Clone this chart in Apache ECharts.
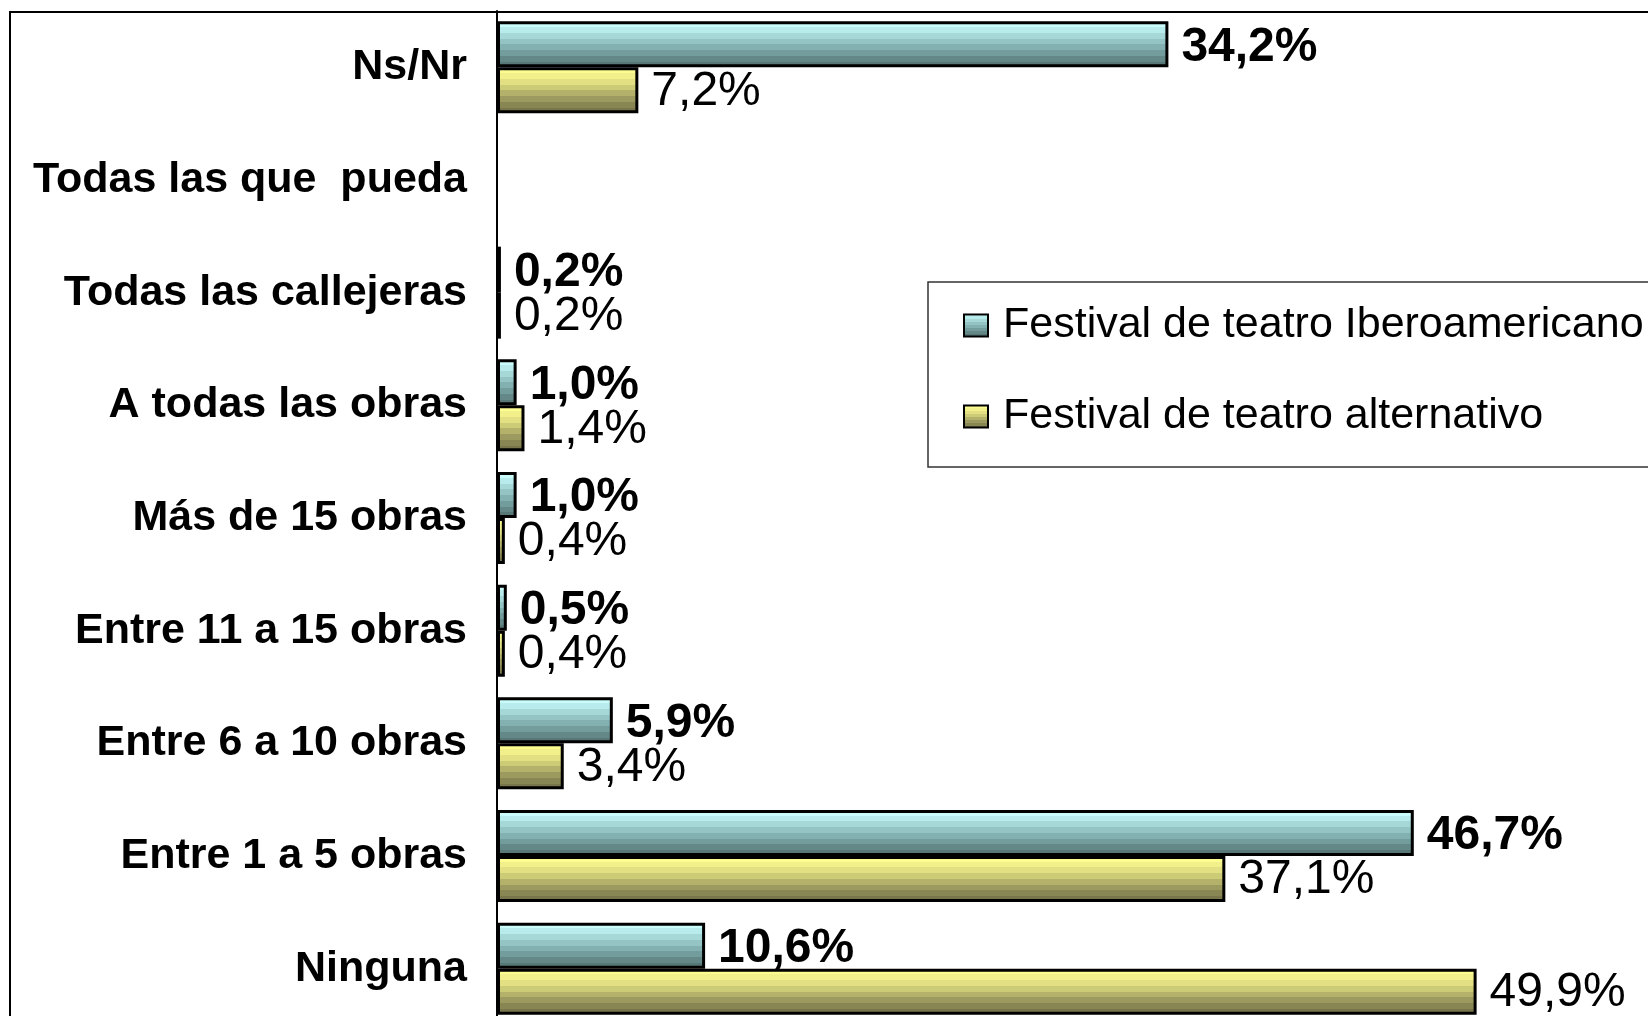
<!DOCTYPE html>
<html style="height: 100%">
<head>
	<meta charset="utf-8">
	<title></title>
	<script type="text/javascript" src="https://cdn.jsdelivr.net/npm/echarts@6.0.0/dist/echarts.min.js"></script>
	<script type="text/javascript">
		// categorias de arriba hacia abajo
		var categorias = ['Ns/Nr', 'Todas las que  pueda', 'Todas las callejeras', 'A todas las obras',
			'Más de 15 obras', 'Entre 11 a 15 obras', 'Entre 6 a 10 obras', 'Entre 1 a 5 obras', 'Ninguna'];
		var iberoamericano = [34.2, null, 0.2, 1.0, 1.0, 0.5, 5.9, 46.7, 10.6];
		var alternativo = [7.2, null, 0.2, 1.4, 0.4, 0.4, 3.4, 37.1, 49.9];
		var nombres = ['Festival de teatro Iberoamericano', 'Festival de teatro alternativo'];

		var fuente = '"Liberation Sans", Arial, sans-serif';

		function bandas(colores) {
			// degradado escalonado, como el de la hoja de calculo
			var stops = [];
			var n = colores.length;
			for (var i = 0; i < n; i++) {
				stops.push({offset: i / n, color: colores[i]});
				stops.push({offset: (i + 1) / n, color: colores[i]});
			}
			return new echarts.graphic.LinearGradient(0, 0, 0, 1, stops);
		}

		function etiqueta(p) {
			if (p.value == null) return '';
			return p.value.toFixed(1).replace('.', ',') + '%';
		}

		window.onload = function () {
			var dom = document.getElementById('container');
			var myChart = echarts.init(dom);
			var option = {
				animation: false,
				backgroundColor: '#fff',
				graphic: [{
					type: 'rect',
					shape: {x: 10, y: 12, width: 1800, height: 1200},
					style: {fill: 'none', stroke: '#000', lineWidth: 2},
					z: -1
				}],
				legend: {
					orient: 'vertical',
					left: 928,
					top: 282,
					padding: [22, 60, 29, 35],
					itemGap: 48,
					itemWidth: 24,
					itemHeight: 22,
					borderColor: '#333',
					borderWidth: 1.5,
					backgroundColor: '#fff',
					icon: 'rect',
					textStyle: {fontSize: 43, fontFamily: fuente, color: '#000', padding: [0, 0, 0, 10]},
					data: nombres
				},
				grid: {
					left: 497,
					top: 11,
					width: 1172,
					height: 1014,
					outerBoundsMode: 'none'
				},
				xAxis: {
					type: 'value',
					min: 0,
					max: 59.7,
					show: false,
					splitLine: {show: false}
				},
				yAxis: {
					type: 'category',
					inverse: true,
					data: categorias,
					axisLine: {lineStyle: {color: '#000', width: 2}},
					axisTick: {length: 10, lineStyle: {color: '#808080', width: 2}},
					axisLabel: {
						fontSize: 43,
						fontWeight: 'bold',
						fontFamily: fuente,
						color: '#000',
						margin: 30
					}
				},
				series: [
					{
						name: nombres[0],
						type: 'bar',
						data: iberoamericano,
						barWidth: 46,
						barGap: '0%',
						itemStyle: {
							color: bandas(['#cafcfc', '#b8ecec', '#a6d8d8', '#94c4c4', '#83b0b0', '#739c9c', '#648888', '#587777']),
							borderColor: '#000',
							borderWidth: 3
						},
						label: {
							show: true,
							position: 'right',
							distance: 13,
							offset: [0, 3],
							formatter: etiqueta,
							fontSize: 48,
							fontWeight: 'bold',
							fontFamily: fuente,
							color: '#000'
						}
					},
					{
						name: nombres[1],
						type: 'bar',
						data: alternativo,
						barWidth: 46,
						barGap: '0%',
						itemStyle: {
							color: bandas(['#fcfc90', '#f2f08a', '#e2e082', '#cccb76', '#b4b26a', '#9c9a5e', '#888652', '#78764a']),
							borderColor: '#000',
							borderWidth: 3
						},
						label: {
							show: true,
							position: 'right',
							distance: 13,
							offset: [0, 1],
							formatter: etiqueta,
							fontSize: 48,
							fontFamily: fuente,
							color: '#000'
						}
					}
				]
			};
			myChart.setOption(option);
		};
	</script>
</head>
<body style="height: 100%; margin: 0">
<div id="container" style="width: 1648px; height: 1016px"></div>
</body>
</html>
